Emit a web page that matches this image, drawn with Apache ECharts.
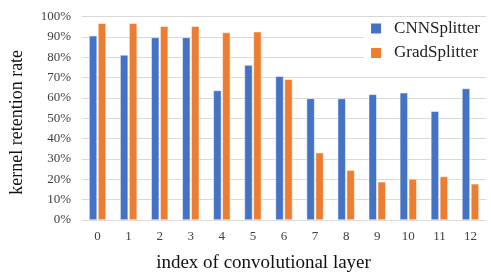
<!DOCTYPE html>
<html><head><meta charset="utf-8">
<script src="https://cdn.jsdelivr.net/npm/echarts@6/dist/echarts.min.js"></script>
<style>html,body{margin:0;padding:0;background:#fff}#c{width:491px;height:278px}</style>
</head><body><div id="c"></div>
<script>
const categories = ['0','1','2','3','4','5','6','7','8','9','10','11','12'];
const cnnSplitter = [90.6, 81.2, 89.8, 89.8, 63.7, 76.2, 70.7, 59.8, 59.8, 61.8, 62.6, 53.5, 64.7];
const gradSplitter = [96.8, 96.8, 95.3, 95.3, 92.2, 92.6, 69.2, 33.1, 24.5, 18.8, 20.2, 21.4, 17.8];
const seriesNames = ['CNNSplitter', 'GradSplitter'];

const font = "'Liberation Serif', 'Times New Roman', serif";
const chart = echarts.init(document.getElementById('c'), null, {renderer: 'canvas'});
chart.setOption({
  animation: false,
  backgroundColor: '#fff',
  color: ['#4472C4', '#ED7D31'],
  textStyle: {fontFamily: font},
  grid: {left: 67, right: 5, top: 16.7, bottom: 55.7, containLabel: false},
  legend: {
    data: seriesNames,
    orient: 'vertical',
    right: 5, top: 17,
    itemWidth: 12, itemHeight: 12, itemGap: 7.4,
    icon: 'rect',
    backgroundColor: '#fff',
    padding: [3, 6, 3, 5],
    textStyle: {fontFamily: font, fontSize: 17, color: '#222', padding: [0, 0, 0, 7]}
  },
  xAxis: {
    type: 'category', data: categories,
    axisLine: {show: true, lineStyle: {color: '#D9D9D9'}},
    axisTick: {show: false},
    axisLabel: {fontFamily: font, fontSize: 13, color: '#404040', margin: 10},
    name: 'index of convolutional layer', nameLocation: 'middle', nameGap: 34,
    nameTextStyle: {fontFamily: font, fontSize: 19, color: '#111', padding: [0, 41, 0, 0]}
  },
  yAxis: {
    type: 'value', min: 0, max: 100, interval: 10,
    axisLine: {show: false}, axisTick: {show: false},
    splitLine: {lineStyle: {color: '#D9D9D9', width: 1}},
    axisLabel: {fontFamily: font, fontSize: 13, color: '#404040', margin: 11, formatter: '{value}%'},
    name: 'kernel retention rate', nameLocation: 'middle', nameGap: 56, nameRotate: 90,
    nameTextStyle: {fontFamily: font, fontSize: 18, color: '#111', padding: [0, 8, 0, 0]}
  },
  series: [
    {name: seriesNames[0], type: 'bar', data: cnnSplitter, barWidth: 8, barGap: '12%',
     itemStyle: {borderColor: '#fff', borderWidth: 0.5}},
    {name: seriesNames[1], type: 'bar', data: gradSplitter, barWidth: 8,
     itemStyle: {borderColor: '#fff', borderWidth: 0.5}}
  ]
});
</script></body></html>
